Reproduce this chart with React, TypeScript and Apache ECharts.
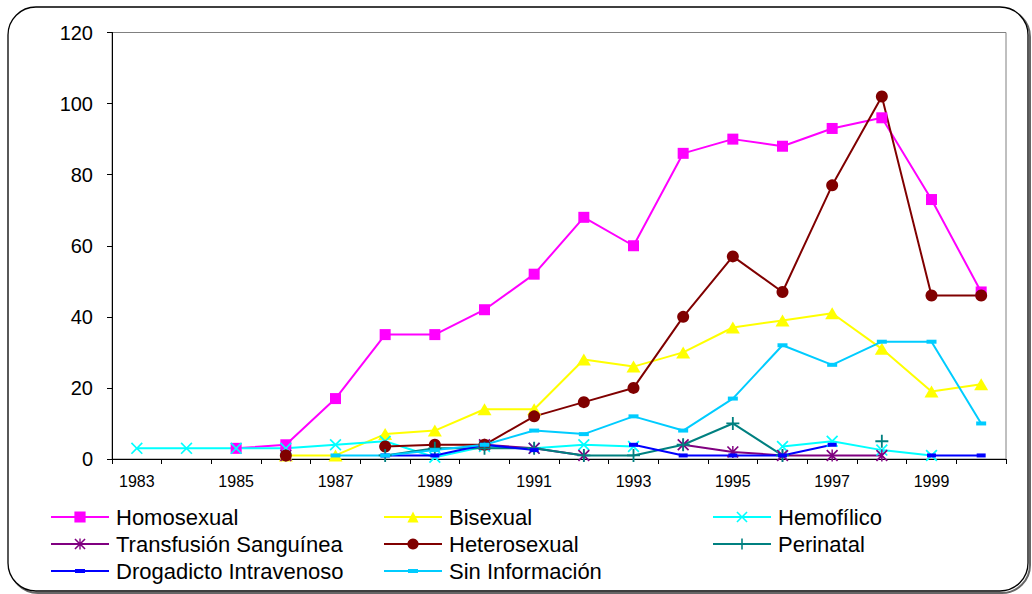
import React, { useEffect, useRef } from "react";
import * as echarts from "echarts";

const years = ["1983","1984","1985","1986","1987","1988","1989","1990","1991","1992","1993","1994","1995","1996","1997","1998","1999","2000"];
const yTicks = { min: 0, max: 120, interval: 20 };

const homosexual = [null, null, 3, 4, 17, 35, 35, 42, 52, 68, 60, 86, 90, 88, 93, 96, 73, 47];
const bisexual = [null, null, null, 1, 1, 7, 8, 14, 14, 28, 26, 30, 37, 39, 41, 31, 19, 21];
const hemofilico = [3, 3, 3, 3, 4, 5, 0.5, 3.5, 3, 4, 3.5, null, null, 3.5, 5, 2.5, 1, null];
const transfusion = [null, null, null, 1, null, null, null, 4, 3, 1, null, 4, 2, 1, 1, 1, null, null];
const heterosexual = [null, null, null, 1, null, 3.5, 4, 4, 12, 16, 20, 40, 57, 47, 77, 102, 46, 46];
const perinatal = [null, null, null, null, null, 1, 3, 3, 3, 1, 1, 4, 10, 1, null, 5, null, null];
const drogadicto = [null, null, null, null, null, 1, 1, 4, 2.5, null, 4, 1, 1, 1, 4, null, 1, 1];
const sinInfo = [null, null, null, null, 1, 1, 2.5, 4, 8, 7, 12, 8, 17, 32, 26.5, 33, 33, 10];

const X_PATH = "path://M0,1 L1,0 L5,4 L9,0 L10,1 L6,5 L10,9 L9,10 L5,6 L1,10 L0,9 L4,5 Z";
const STAR_PATH = "path://M0,1 L1,0 L5,4 L9,0 L10,1 L6,5 L10,9 L9,10 L5,6 L1,10 L0,9 L4,5 Z M4.4,0 L5.6,0 L5.6,10 L4.4,10 Z";
const PLUS_PATH = "path://M4.3,0 L5.7,0 L5.7,4.3 L10,4.3 L10,5.7 L5.7,5.7 L5.7,10 L4.3,10 L4.3,5.7 L0,5.7 L0,4.3 L4.3,4.3 Z";
// legend icon: a line across with a short dash marker in the middle
const DASH_LEGEND = "path://M0,6 L24,6 L24,5 L34,5 L34,6 L58,6 L58,8 L34,8 L34,9 L24,9 L24,8 L0,8 Z";

const FONT = "'Liberation Sans', Arial, sans-serif";

function mk(name: string, data: (number | null)[], color: string, symbol: string, size: any) {
  return {
    name,
    type: "line",
    data,
    symbol,
    symbolSize: size,
    showSymbol: true,
    showAllSymbol: true,
    connectNulls: false,
    lineStyle: { color, width: 2 },
    itemStyle: { color, borderWidth: 0 },
    emphasis: { disabled: true },
  };
}

export default function App() {
  const ref = useRef<HTMLDivElement>(null);
  useEffect(() => {
    if (!ref.current) return;
    const chart = echarts.init(ref.current, undefined, { renderer: "svg" });
    const legendCommon = {
      orient: "vertical",
      itemWidth: 58,
      itemHeight: 14,
      itemGap: 5,
      selectedMode: false,
      symbolKeepAspect: true,
      textStyle: { fontSize: 22, fontFamily: FONT, color: "#000", lineHeight: 22, padding: [0, 0, 0, 2] },
      padding: 0,
    };
    chart.setOption({
      animation: false,
      backgroundColor: "#fff",
      textStyle: { fontFamily: FONT },
      graphic: [
        {
          type: "rect",
          shape: { x: 10, y: 9, width: 1020, height: 584, r: 28 },
          style: { fill: "none", stroke: "#666", lineWidth: 2 },
          silent: true,
          z: -1,
        },
        {
          type: "rect",
          shape: { x: 8, y: 7, width: 1020, height: 584, r: 28 },
          style: { fill: "#fff", stroke: "#000", lineWidth: 1.3 },
          silent: true,
          z: -1,
        },
      ],
      grid: {
        left: 112,
        right: 26,
        top: 32.5,
        bottom: 135,
        show: true,
        borderColor: "#808080",
        borderWidth: 1,
        backgroundColor: "#fff",
        z: 0,
      },
      legend: [
        {
          ...legendCommon,
          left: 50,
          top: 506,
          data: [
            { name: "Homosexual" },
            { name: "Transfusión Sanguínea" },
            { name: "Drogadicto Intravenoso", icon: DASH_LEGEND },
          ],
        },
        {
          ...legendCommon,
          left: 383,
          top: 506,
          data: [
            { name: "Bisexual" },
            { name: "Heterosexual" },
            { name: "Sin Información", icon: DASH_LEGEND },
          ],
        },
        { ...legendCommon, left: 712, top: 506, data: [{ name: "Hemofílico" }, { name: "Perinatal" }] },
      ],
      xAxis: {
        type: "category",
        data: years,
        boundaryGap: true,
        axisLine: { lineStyle: { color: "#000", width: 1 } },
        axisTick: { show: true, interval: 0, length: 5, lineStyle: { color: "#000" } },
        axisLabel: { interval: 1, fontSize: 16, color: "#000", margin: 14, fontFamily: FONT },
        splitLine: { show: false },
      },
      yAxis: {
        type: "value",
        min: yTicks.min,
        max: yTicks.max,
        interval: yTicks.interval,
        axisLine: { show: true, lineStyle: { color: "#000", width: 1 } },
        axisTick: { show: true, length: 5, lineStyle: { color: "#000" } },
        axisLabel: { fontSize: 20, color: "#000", margin: 19, fontFamily: FONT },
        splitLine: { show: false },
      },
      series: [
        mk("Homosexual", homosexual, "#FF00FF", "rect", 11),
        mk("Bisexual", bisexual, "#FFFF00", "triangle", [14, 12]),
        mk("Hemofílico", hemofilico, "#00FFFF", X_PATH, 12),
        mk("Transfusión Sanguínea", transfusion, "#800080", STAR_PATH, 12),
        mk("Heterosexual", heterosexual, "#800000", "circle", 12),
        mk("Perinatal", perinatal, "#008080", PLUS_PATH, 13),
        mk("Drogadicto Intravenoso", drogadicto, "#0000FF", "rect", [9, 4]),
        mk("Sin Información", sinInfo, "#00CCFF", "rect", [10, 4]),
      ],
    });
    return () => chart.dispose();
  }, []);
  return (
    <div
      ref={ref}
      style={{ position: "fixed", left: 0, top: 0, width: 1032, height: 594 }}
    />
  );
}
